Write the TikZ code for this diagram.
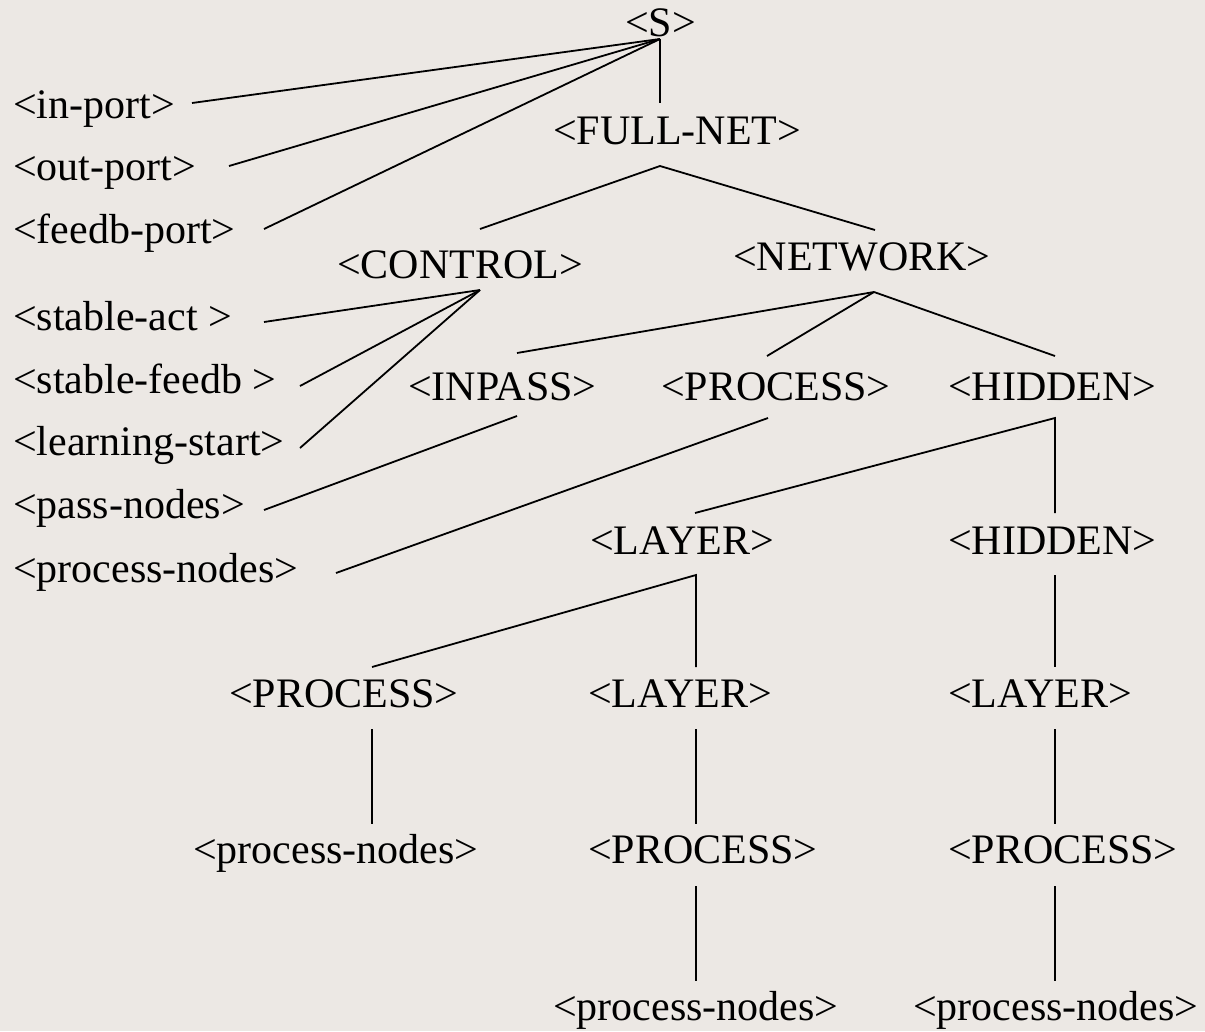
\documentclass[tikz,border=0pt]{standalone}
\usepackage{fontspec}
\setmainfont{Liberation Serif}
\definecolor{paper}{RGB}{236,232,228}
\begin{document}
\begin{tikzpicture}[x=1pt,y=-1pt,
  lbl/.style={inner sep=0pt,anchor=base west,font=\fontsize{42}{48}\selectfont},
  edge/.style={line width=1.8pt,black}]
\useasboundingbox (0,0) rectangle (1205,1031);
\fill[paper] (0,0) rectangle (1205,1031);

% grammar symbols
\node[lbl] (S)      at (625,36)  {<S>};
\node[lbl] (fullnet) at (553,144) {<FULL-NET>};
\node[lbl] (inport)  at (13,118)  {<in-port>};
\node[lbl] (outport) at (13,180)  {<out-port>};
\node[lbl] (fbport)  at (13,243)  {<feedb-port>};
\node[lbl] (control) at (337,278) {<CONTROL>};
\node[lbl] (network) at (733,270) {<NETWORK>};
\node[lbl] (stact)   at (13,330)  {<stable-act >};
\node[lbl] (stfb)    at (13,393)  {<stable-feedb >};
\node[lbl] (lstart)  at (13,455)  {<learning-start>};
\node[lbl] (pnodes)  at (13,518)  {<pass-nodes>};
\node[lbl] (prnodesA) at (13,582) {<process-nodes>};
\node[lbl] (inpass)  at (408,400) {<INPASS>};
\node[lbl] (procA)   at (661,400) {<PROCESS>};
\node[lbl] (hidA)    at (948,400) {<HIDDEN>};
\node[lbl] (layA)    at (590,554) {<LAYER>};
\node[lbl] (hidB)    at (948,554) {<HIDDEN>};
\node[lbl] (procB)   at (229,707) {<PROCESS>};
\node[lbl] (layB)    at (588,707) {<LAYER>};
\node[lbl] (layC)    at (948,707) {<LAYER>};
\node[lbl] (prnodesB) at (193,863) {<process-nodes>};
\node[lbl] (procC)   at (588,863) {<PROCESS>};
\node[lbl] (procD)   at (948,863) {<PROCESS>};
\node[lbl] (prnodesC) at (553,1020) {<process-nodes>};
\node[lbl] (prnodesD) at (913,1020) {<process-nodes>};

% attachment points of the branches
\coordinate (S-j)       at (660,39);
\coordinate (fullnet-t) at (660,103);
\coordinate (fullnet-j) at (660,166);
\coordinate (inport-e)  at (192,103);
\coordinate (outport-e) at (229,166);
\coordinate (fbport-e)  at (264,229);
\coordinate (control-t) at (480,229);
\coordinate (network-t) at (875,230);
\coordinate (control-j) at (480,290);
\coordinate (stact-e)   at (264,322);
\coordinate (stfb-e)    at (300,386);
\coordinate (lstart-e)  at (300,448);
\coordinate (network-j) at (874,292);
\coordinate (inpass-t)  at (517,353);
\coordinate (procA-t)   at (767,356);
\coordinate (hidA-t)    at (1055,356);
\coordinate (inpass-j)  at (517,416);
\coordinate (pnodes-e)  at (264,510);
\coordinate (procA-j)   at (768,418);
\coordinate (prnodesA-e) at (336,573);
\coordinate (hidA-j)    at (1055,418);
\coordinate (layA-t)    at (695,513);
\coordinate (hidB-t)    at (1055,513);
\coordinate (layA-j)    at (696,575);
\coordinate (procB-t)   at (372,667);
\coordinate (layB-t)    at (696,667);
\coordinate (hidB-j)    at (1055,575);
\coordinate (layC-t)    at (1055,667);
\coordinate (procB-j)   at (372,729);
\coordinate (prnodesB-t) at (372,824);
\coordinate (layB-j)    at (696,729);
\coordinate (procC-t)   at (696,824);
\coordinate (layC-j)    at (1055,729);
\coordinate (procD-t)   at (1055,824);
\coordinate (procC-j)   at (696,886);
\coordinate (prnodesC-t) at (696,981);
\coordinate (procD-j)   at (1055,886);
\coordinate (prnodesD-t) at (1055,981);

% derivation branches
\draw[edge] (S-j) -- (inport-e);
\draw[edge] (S-j) -- (outport-e);
\draw[edge] (S-j) -- (fbport-e);
\draw[edge] (S-j) -- (fullnet-t);
\draw[edge] (control-t) -- (fullnet-j) -- (network-t);
\draw[edge] (control-j) -- (stact-e);
\draw[edge] (control-j) -- (stfb-e);
\draw[edge] (control-j) -- (lstart-e);
\draw[edge] (network-j) -- (inpass-t);
\draw[edge] (network-j) -- (procA-t);
\draw[edge] (network-j) -- (hidA-t);
\draw[edge] (inpass-j) -- (pnodes-e);
\draw[edge] (procA-j) -- (prnodesA-e);
\draw[edge] (layA-t) -- (hidA-j) -- (hidB-t);
\draw[edge] (procB-t) -- (layA-j) -- (layB-t);
\draw[edge] (hidB-j) -- (layC-t);
\draw[edge] (procB-j) -- (prnodesB-t);
\draw[edge] (layB-j) -- (procC-t);
\draw[edge] (layC-j) -- (procD-t);
\draw[edge] (procC-j) -- (prnodesC-t);
\draw[edge] (procD-j) -- (prnodesD-t);
\end{tikzpicture}
\end{document}
